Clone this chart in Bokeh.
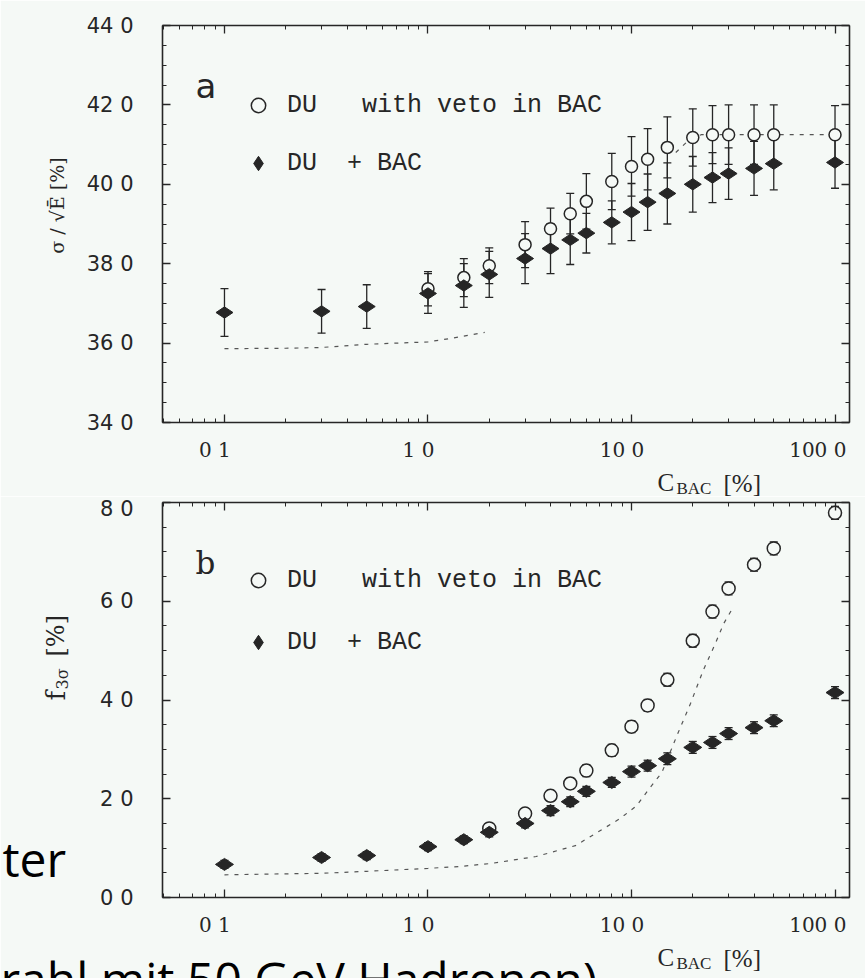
import numpy as np
from bokeh.plotting import figure
from bokeh.models import (Range1d, LogAxis, LinearAxis, FixedTicker, SingleIntervalTicker,
                          ColumnDataSource, Whisker, TeeHead, Label, Legend, LegendItem, GridBox)
from bokeh.core.properties import value
from bokeh.layouts import column
from bokeh.embed import file_html
from bokeh.resources import INLINE

# ---------------- data ----------------
c_bac = [0.1, 0.3, 0.5, 1.0, 1.5, 2.0, 3.0, 4.0, 5.0, 6.0, 8.0, 10.0, 12.0, 15.0,
         20.0, 25.0, 30.0, 40.0, 50.0, 100.0]

# panel a: sigma/sqrt(E) [%]
res_du_bac = [36.77, 36.80, 36.92, 37.25, 37.45, 37.73, 38.13, 38.38, 38.60, 38.77,
              39.04, 39.30, 39.55, 39.77, 40.00, 40.17, 40.27, 40.40, 40.52, 40.55]
res_du_bac_err = [0.60, 0.55, 0.55, 0.50, 0.55, 0.58, 0.63, 0.63, 0.62, 0.50,
                  0.54, 0.72, 0.71, 0.77, 0.70, 0.63, 0.65, 0.68, 0.66, 0.65]
c_bac_veto_a = [1.0, 1.5, 2.0, 3.0, 4.0, 5.0, 6.0, 8.0, 10.0, 12.0, 15.0, 20.0, 25.0,
                30.0, 40.0, 50.0, 100.0]
res_veto = [37.37, 37.65, 37.95, 38.48, 38.88, 39.26, 39.57, 40.07, 40.45, 40.63,
            40.93, 41.18, 41.25, 41.25, 41.25, 41.25, 41.25]
res_veto_err = [0.43, 0.48, 0.45, 0.58, 0.52, 0.51, 0.70, 0.71, 0.75, 0.77,
                0.77, 0.72, 0.73, 0.75, 0.75, 0.75, 0.73]
res_curve_low_x = [0.1, 0.2, 0.3, 0.5, 1.0, 1.3, 1.9]
res_curve_low_y = [35.86, 35.87, 35.89, 35.97, 36.03, 36.12, 36.27]
res_curve_high_x = [16.5, 19.0, 22.0, 100.0]
res_curve_high_y = [40.80, 41.10, 41.25, 41.25]

# panel b: f_3sigma [%]
f3s_du_bac = [0.67, 0.81, 0.85, 1.03, 1.17, 1.32, 1.50, 1.76, 1.94, 2.15,
              2.33, 2.55, 2.67, 2.81, 3.04, 3.14, 3.32, 3.44, 3.58, 4.15]
f3s_du_bac_err = [0.08, 0.08, 0.08, 0.08, 0.08, 0.09, 0.09, 0.10, 0.10, 0.10,
                  0.10, 0.11, 0.11, 0.12, 0.12, 0.12, 0.12, 0.12, 0.12, 0.12]
c_bac_veto_b = [2.0, 3.0, 4.0, 5.0, 6.0, 8.0, 10.0, 12.0, 15.0, 20.0, 25.0, 30.0,
                40.0, 50.0, 100.0]
f3s_veto = [1.40, 1.70, 2.06, 2.31, 2.57, 2.98, 3.46, 3.89, 4.41, 5.20, 5.79, 6.26,
            6.74, 7.07, 7.79]
f3s_veto_err = [0.10, 0.10, 0.11, 0.11, 0.12, 0.12, 0.12, 0.12, 0.13, 0.13, 0.13, 0.13,
                0.13, 0.13, 0.13]
f3s_curve_x = [0.1, 0.3, 0.5, 1.0, 1.45, 2.05, 3.4, 5.3, 8.8, 10.6, 12.2, 14.1, 16.8,
               19.5, 22.5, 25.8, 28.4, 31.5]
f3s_curve_y = [0.46, 0.49, 0.53, 0.59, 0.63, 0.69, 0.83, 1.05, 1.60, 1.86, 2.20, 2.53,
               3.30, 3.93, 4.60, 5.14, 5.55, 5.87]

x_ticks = [0.1, 1.0, 10.0, 100.0]
x_tick_labels = ["0 1", "1 0", "10 0", "100 0"]
y_ticks_a = [34, 36, 38, 40, 42, 44]
y_tick_labels_a = ["34 0", "36 0", "38 0", "40 0", "42 0", "44 0"]
y_ticks_b = [0, 2, 4, 6, 8]
y_tick_labels_b = ["0 0", "2 0", "4 0", "6 0", "8 0"]

# ---------------- style ----------------
PAGE_W, PAGE_H = 865, 978
BG = "#f5f9f6"
INK = "#262626"
X_LO, X_HI = 0.0496, 117.8
FRAME_L = 162
TICK_FONT_X = "DejaVu Serif"
TICK_FONT_Y = "DejaVu Sans"
NBSP = "\u00a0"
x_minor = [m * d for d in (0.01, 0.1, 1.0, 10.0) for m in range(2, 10)
           if X_LO <= m * d <= X_HI]


def style_axis(ax, show_labels):
    ax.axis_line_color = INK
    ax.axis_line_width = 1.6
    ax.major_tick_in = 8
    ax.major_tick_out = 0
    ax.minor_tick_in = 4
    ax.minor_tick_out = 0
    ax.major_tick_line_color = INK
    ax.minor_tick_line_color = INK
    ax.major_tick_line_width = 1.3
    ax.minor_tick_line_width = 1.0
    if not show_labels:
        ax.major_label_text_font_size = "2px"
        ax.major_label_text_alpha = 0
        ax.major_label_standoff = 0


def make_fig(y_lo, y_hi, frame_h, b_top, b_bottom, yticks, ylabels):
    p = figure(x_axis_type="log", x_range=Range1d(X_LO, X_HI), y_range=Range1d(y_lo, y_hi),
               frame_width=687, frame_height=frame_h,
               min_border_left=FRAME_L, min_border_right=16,
               min_border_top=b_top, min_border_bottom=b_bottom,
               output_backend="svg", toolbar_location=None,
               background_fill_color=BG, border_fill_color=BG, outline_line_color=None)
    p.grid.visible = False
    xa = p.xaxis[0]
    xa.ticker = FixedTicker(ticks=x_ticks, minor_ticks=x_minor)
    style_axis(xa, True)
    xa.major_label_overrides = {t: s + NBSP * 3 for t, s in zip(x_ticks, x_tick_labels)}
    xa.major_label_standoff = 15
    xa.major_label_text_font = TICK_FONT_X
    xa.major_label_text_font_size = "20px"
    xa.major_label_text_color = INK
    ya = p.yaxis[0]
    ya.ticker = SingleIntervalTicker(interval=2, num_minor_ticks=4)
    style_axis(ya, True)
    ya.major_label_overrides = dict(zip(yticks, ylabels))
    ya.major_label_standoff = 29
    ya.major_label_text_font = TICK_FONT_Y
    ya.major_label_text_font_size = "21px"
    ya.major_label_text_color = INK
    top = LogAxis(ticker=FixedTicker(ticks=x_ticks, minor_ticks=x_minor))
    style_axis(top, False)
    p.add_layout(top, "above")
    right = LinearAxis(ticker=SingleIntervalTicker(interval=2, num_minor_ticks=4))
    style_axis(right, False)
    p.add_layout(right, "right")
    return p


def add_series(p, x_open, y_open, e_open, x_fill, y_fill, e_fill, msize):
    so = ColumnDataSource(dict(x=x_open, y=y_open,
                               lo=np.array(y_open) - np.array(e_open),
                               hi=np.array(y_open) + np.array(e_open)))
    sf = ColumnDataSource(dict(x=x_fill, y=y_fill,
                               lo=np.array(y_fill) - np.array(e_fill),
                               hi=np.array(y_fill) + np.array(e_fill)))
    for s in (so, sf):
        p.add_layout(Whisker(source=s, base="x", upper="hi", lower="lo",
                             line_color=INK, line_width=1.3,
                             upper_head=TeeHead(size=8, line_color=INK, line_width=1.3),
                             lower_head=TeeHead(size=8, line_color=INK, line_width=1.3)))
    r_open = p.scatter("x", "y", source=so, marker="circle", size=msize,
                       fill_color=BG, line_color=INK, line_width=1.5)
    r_fill = p.scatter("x", "y", source=sf, marker="diamond", size=msize + 5,
                       angle=np.pi / 2, fill_color=INK, line_color=INK)
    return r_open, r_fill


def add_legend(p, r_open, r_fill, vx, vy, spacing):
    leg = Legend(items=[LegendItem(label=value("DU" + NBSP * 3 + "with veto in BAC"), renderers=[r_open]),
                        LegendItem(label=value("DU" + NBSP * 2 + "+" + NBSP + "BAC"), renderers=[r_fill])],
                 location=(vx, vy), orientation="vertical",
                 glyph_width=36, glyph_height=36, spacing=spacing, label_standoff=11,
                 padding=0, margin=0, border_line_color=None, background_fill_alpha=0,
                 label_text_font="Liberation Mono", label_text_font_size="25px",
                 label_text_color=INK)
    p.add_layout(leg)


# ---------------- panel a ----------------
pa = make_fig(34, 44, 397, 25, 74, y_ticks_a, y_tick_labels_a)
pa.line(res_curve_low_x, res_curve_low_y, line_dash="4 6", line_color="#555555", line_width=1.2)
pa.line(res_curve_high_x, res_curve_high_y, line_dash="4 6", line_color="#555555", line_width=1.2)
ro, rf = add_series(pa, c_bac_veto_a, res_veto, res_veto_err, c_bac, res_du_bac, res_du_bac_err, 12)
add_legend(pa, ro, rf, 78, 241, 22)

# ---------------- panel b ----------------
pb = make_fig(0, 8, 395, 6, 81, y_ticks_b, y_tick_labels_b)
pb.line(f3s_curve_x, f3s_curve_y, line_dash="4 6", line_color="#555555", line_width=1.2)
ro, rf = add_series(pb, c_bac_veto_b, f3s_veto, f3s_veto_err, c_bac, f3s_du_bac, f3s_du_bac_err, 13)
add_legend(pb, ro, rf, 78, 237, 26)

# ---------------- transparent text layer over the whole page ----------------
ov = figure(width=PAGE_W, height=PAGE_H, x_range=Range1d(0, PAGE_W), y_range=Range1d(PAGE_H, 0),
            x_axis_location=None, y_axis_location=None, min_border=0,
            output_backend="svg", toolbar_location=None, outline_line_color=None,
            background_fill_alpha=0, border_fill_alpha=0)
ov.grid.visible = False
if "frame_align" in ov.properties():
    ov.frame_align = False


def lab(px, py, text, font, size, color=INK, **kw):
    kw.setdefault("text_baseline", "alphabetic")
    ov.add_layout(Label(x=px, y=py, text=text, text_font=font, text_font_size=size,
                        text_color=color, **kw))


# panel letters
lab(195, 85, "a", "DejaVu Sans", "34px")
lab(195, 562, "b", "DejaVu Serif", "31px")
# y titles
lab(56, 205, "σ / √Ē [%]", "DejaVu Serif", "19px", angle=np.pi / 2,
    text_align="center", text_baseline="middle")
lab(55, 700, "f", "DejaVu Serif", "26px", angle=np.pi / 2)
lab(62, 689, "3σ", "DejaVu Serif", "16px", angle=np.pi / 2)
lab(55, 656, "[%]", "DejaVu Serif", "24px", angle=np.pi / 2)
# x titles  C_BAC [%]
for fb in (422, 897):
    lab(657, fb + 60, "C", "Liberation Serif", "25px")
    lab(676, fb + 66, "BAC", "Liberation Serif", "17px")
    lab(723, fb + 61, "[%]", "Liberation Serif", "25px")
# fragments of the surrounding slide text
lab(2, 858, "ter", "Open Sans", "48px", color="black")
lab(0, 978, "rahl mit 50 GeV Hadronen)", "Open Sans", "48px", color="black")

plots = column(pa, pb, spacing=0)
layout = GridBox(children=[(plots, 0, 0), (ov, 0, 0)], spacing=0)
open("out.html", "w").write(file_html(layout, INLINE))
